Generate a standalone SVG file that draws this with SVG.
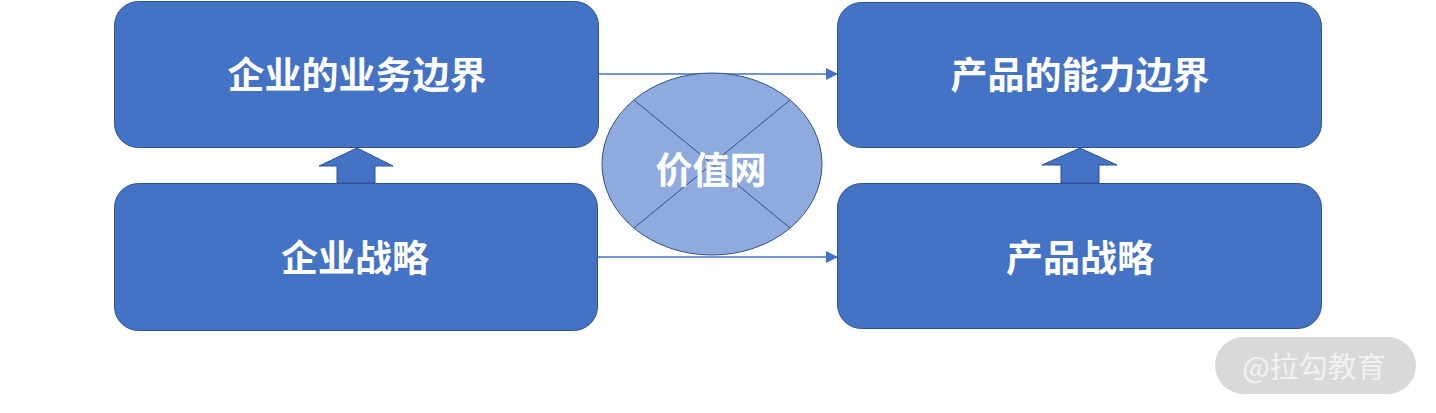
<svg xmlns="http://www.w3.org/2000/svg" width="1436" height="413" viewBox="0 0 1436 413">
<style>
.box{fill:#4472C4;stroke:#2F528F;stroke-width:1}
.lbl{font-family:"Noto Sans CJK SC","Noto Sans",sans-serif;font-weight:bold;font-size:37px;fill:#ffffff;text-anchor:middle;dominant-baseline:central}
.conn{stroke:#4472C4;stroke-width:1.3;fill:none}
.fat{fill:#4472C4;stroke:#2F528F;stroke-width:1}
</style>
<defs>
<marker id="ah" viewBox="0 0 12 12" refX="12" refY="6" markerWidth="12" markerHeight="12" markerUnits="userSpaceOnUse" orient="auto">
<path d="M0,0 L12,6 L0,12 Z" fill="#4472C4"/>
</marker>
</defs>
<rect width="1436" height="413" fill="#ffffff"/>
<g id="connectors">
<line class="conn" x1="598" y1="74" x2="838" y2="74" marker-end="url(#ah)"/>
<line class="conn" x1="597" y1="257" x2="838" y2="257" marker-end="url(#ah)"/>
<path class="fat" d="M357,148 L393,166 L375,166 L375,183 L337,183 L337,166 L319,166 Z"/>
<path class="fat" d="M1080,148 L1117,165 L1099,165 L1099,183 L1061,183 L1061,165 L1042,165 Z"/>
</g>
<g id="node-biz-boundary">
<rect class="box" x="114.5" y="1.5" width="484" height="146" rx="24"/>
<text class="lbl" x="357" y="73">企业的业务边界</text>
</g>
<g id="node-biz-strategy">
<rect class="box" x="114.5" y="183.5" width="483" height="147" rx="24"/>
<text class="lbl" x="355" y="256">企业战略</text>
</g>
<g id="node-prod-boundary">
<rect class="box" x="837.5" y="2.5" width="484" height="145" rx="24"/>
<text class="lbl" x="1080" y="73">产品的能力边界</text>
</g>
<g id="node-prod-strategy">
<rect class="box" x="837.5" y="183.5" width="484" height="145" rx="24"/>
<text class="lbl" x="1080" y="256">产品战略</text>
</g>
<g id="node-value-net">
<ellipse cx="712" cy="164" rx="110" ry="91" fill="#8FAADC" stroke="#2F528F" stroke-width="1"/>
<line x1="634" y1="100" x2="790" y2="228" stroke="#2F528F" stroke-width="1"/>
<line x1="790" y1="100" x2="634" y2="228" stroke="#2F528F" stroke-width="1"/>
<text class="lbl" x="711" y="168">价值网</text>
</g>
<g id="watermark">
<rect x="1215" y="337" width="201" height="57" rx="28.5" fill="#d9d9d9"/>
<text x="1314" y="365" font-family="Noto Sans CJK SC,Noto Sans,sans-serif" font-size="29" fill="#f2f2f2" text-anchor="middle" dominant-baseline="central">@拉勾教育</text>
</g>
</svg>
